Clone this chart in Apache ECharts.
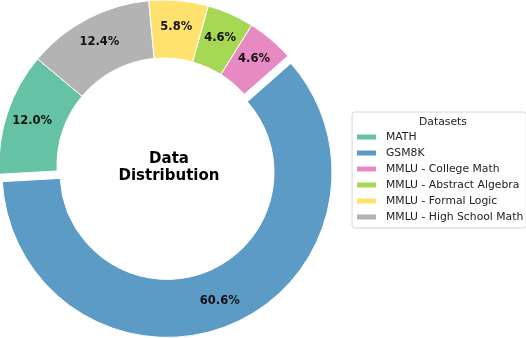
<!DOCTYPE html>
<html>
<head>
<meta charset="utf-8">
<script src="https://cdn.jsdelivr.net/npm/echarts@6/dist/echarts.min.js"></script>
<style>
  html, body { margin: 0; padding: 0; background: #fff; }
  #main { width: 526px; height: 338px; }
</style>
</head>
<body>
<div id="main"></div>
<script>
// 数据
var datasets = ['MATH', 'GSM8K', 'MMLU - College Math', 'MMLU - Abstract Algebra', 'MMLU - Formal Logic', 'MMLU - High School Math'];
var shares = [12.0, 60.6, 4.6, 4.6, 5.8, 12.4];
var colors = ['#66c2a5', '#5b9bc6', '#e78ac3', '#a6d854', '#ffe26e', '#b3b3b3'];
var exploded = 'GSM8K';

var myChart = echarts.init(document.getElementById('main'));

var pieData = datasets.map(function (name, i) {
    return {
        name: name,
        value: shares[i],
        selected: name === exploded,
        itemStyle: { color: colors[i] }
    };
});

myChart.setOption({
    animation: false,
    title: [{
        text: 'Data\nDistribution',
        left: 164, top: 163,
        textAlign: 'center', textVerticalAlign: 'middle',
        textStyle: { fontFamily: 'DejaVu Sans', fontWeight: 'bold', fontSize: 15, lineHeight: 17, color: '#000' }
    }, {
        text: 'Datasets',
        left: 438, top: 112,
        textAlign: 'center',
        textStyle: { fontFamily: 'DejaVu Sans', fontWeight: 'normal', fontSize: 10.8, color: '#222' }
    }],
    legend: {
        orient: 'vertical',
        left: 352, top: 112,
        padding: [19, 3, 5, 3],
        itemWidth: 21, itemHeight: 7, itemGap: 4,
        icon: 'rect',
        borderColor: '#d4d4d4', borderWidth: 1, borderRadius: 3,
        selectedMode: false,
        textStyle: { fontFamily: 'DejaVu Sans', fontSize: 10.8, lineHeight: 12, color: '#222', padding: [0, 0, 0, 4] },
        data: datasets
    },
    series: [{
        type: 'pie',
        center: [164, 165],
        radius: [107, 165],
        startAngle: 140,
        clockwise: false,
        selectedMode: 'single',
        selectedOffset: 8,
        emphasis: { disabled: true },
        itemStyle: { borderColor: '#fff', borderWidth: 1 },
        label: {
            position: 'inside',
            formatter: function (p) { return p.value.toFixed(1) + '%'; },
            fontFamily: 'DejaVu Sans', fontWeight: 'bold', fontSize: 11.5, color: '#111'
        },
        labelLine: { show: false },
        data: pieData
    }]
});
</script>
</body>
</html>
